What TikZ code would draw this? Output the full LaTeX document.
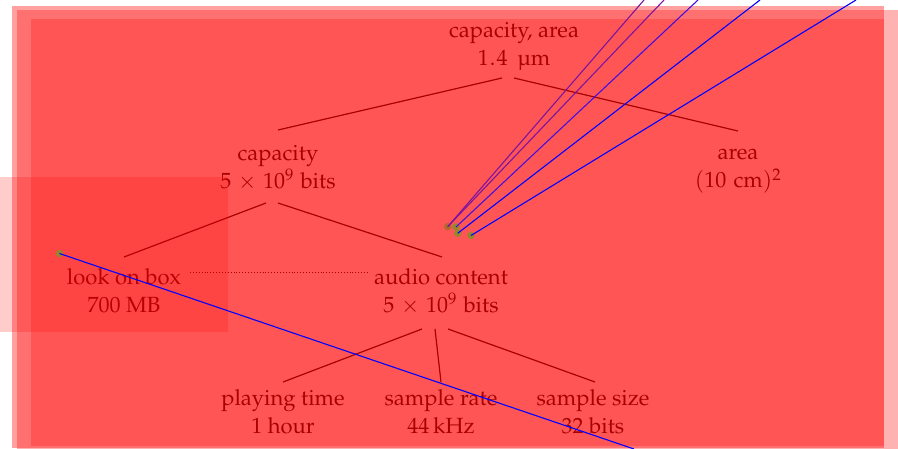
\documentclass[tikz,border=0pt]{standalone}
\usepackage[T1]{fontenc}
\usepackage{mathpazo}
\usetikzlibrary{calc}
\definecolor{olivedot}{RGB}{150,135,45}
\definecolor{browndot}{RGB}{180,105,40}
\definecolor{rayviolet}{RGB}{125,20,160}
\definecolor{rayindigo}{RGB}{70,15,220}
\newcommand{\twolines}[2]{\strut#1\\\strut#2}
\newcommand{\gbits}{$5\mkern2mu\times\mkern2mu10^{9\mkern1mu}$ bits}

\begin{document}
\begin{tikzpicture}[x=1pt,y=-1pt,
  lbl/.style={align=center, inner sep=0pt, font=\fontsize{22}{28}\selectfont},
  edge/.style={line width=1.2pt, black},
  link/.style={line width=0.9pt, black, dotted},
  ray/.style={line width=1.1pt},
  dot/.style={circle, inner sep=0pt, minimum size=7.5pt},
]
\useasboundingbox (0,0) rectangle (898,449);

% estimate tree
\node[lbl] (root)  at (514,45.6)  {\twolines{capacity, area}{1\kern1.2pt.\kern1.2pt4\hspace{0.45em}\textmu m}};
\node[lbl] (cap)   at (278,168.6) {\twolines{capacity}{\gbits}};
\node[lbl] (area)  at (738,168.4) {\twolines{area}{$(10\mkern6mu\mathrm{cm})^{2}$}};
\node[lbl] (look)  at (124,293) {\twolines{look on box}{700 MB}};
\node[lbl] (audio) at (441,293) {\twolines{audio content}{\gbits}};
\node[lbl] (play)  at (283,413.8) {\twolines{playing time}{1 hour}};
\node[lbl] (rate)  at (441,413.8) {\twolines{sample rate}{44\,kHz}};
\node[lbl] (size)  at (593,413.8) {\twolines{sample size}{32 bits}};

\draw[edge] ($(root)+(-12,32.4)$) -- ($(cap)+(0,-38.6)$);
\draw[edge] ($(root)+(0,32.4)$)   -- ($(area)+(0,-37.4)$);
\draw[edge] ($(cap)+(-12,34.4)$)  -- ($(look)+(0,-36)$);
\draw[edge] ($(cap)+(0,34.4)$)    -- ($(audio)+(1,-36)$);
\draw[link] ($(look)+(66,-21)$) -- ($(audio)+(-74,-21)$);
\draw[edge] ($(audio)+(-19,36)$) -- ($(play)+(0,-31.8)$);
\draw[edge] ($(audio)+(-6,36)$)  -- ($(rate)+(0,-31.8)$);
\draw[edge] ($(audio)+(7,36)$)   -- ($(size)+(2,-31.8)$);

% translucent red washes
\fill[red, opacity=0.37] (12,6)  rectangle (884,448);
\fill[red, opacity=0.30] (17,10) rectangle (898,449);
\fill[red, opacity=0.24] (31,19) rectangle (884,446);
\fill[red, opacity=0.20] (0,177) rectangle (228,332);

% markers and rays
\node[dot, fill=browndot] (d1) at (447.7,226.7) {};
\node[dot, fill=olivedot] (d2) at (456,227) {};
\node[dot, fill=olivedot] (d3) at (457.7,233.3) {};
\node[dot, fill=olivedot] (d4) at (471,235.5) {};
\node[dot, fill=olivedot] (d5) at (59.5,253.5) {};

\coordinate (t1) at (644,0);
\coordinate (t2) at (664,0);
\coordinate (t3) at (698,0);
\coordinate (t4) at (760,0);
\coordinate (t5) at (856,0);
\coordinate (b1) at (634,449);

\draw[ray, rayviolet] (d1.center) -- (t1);
\draw[ray, rayviolet] (d1.center) -- (t2);
\draw[ray, rayindigo] (d2.center) -- (t3);
\draw[ray, blue] (d3.center) -- (t4);
\draw[ray, blue] (d4.center) -- (t5);
\draw[ray, blue] (d5.center) -- (b1);
\end{tikzpicture}
\end{document}
